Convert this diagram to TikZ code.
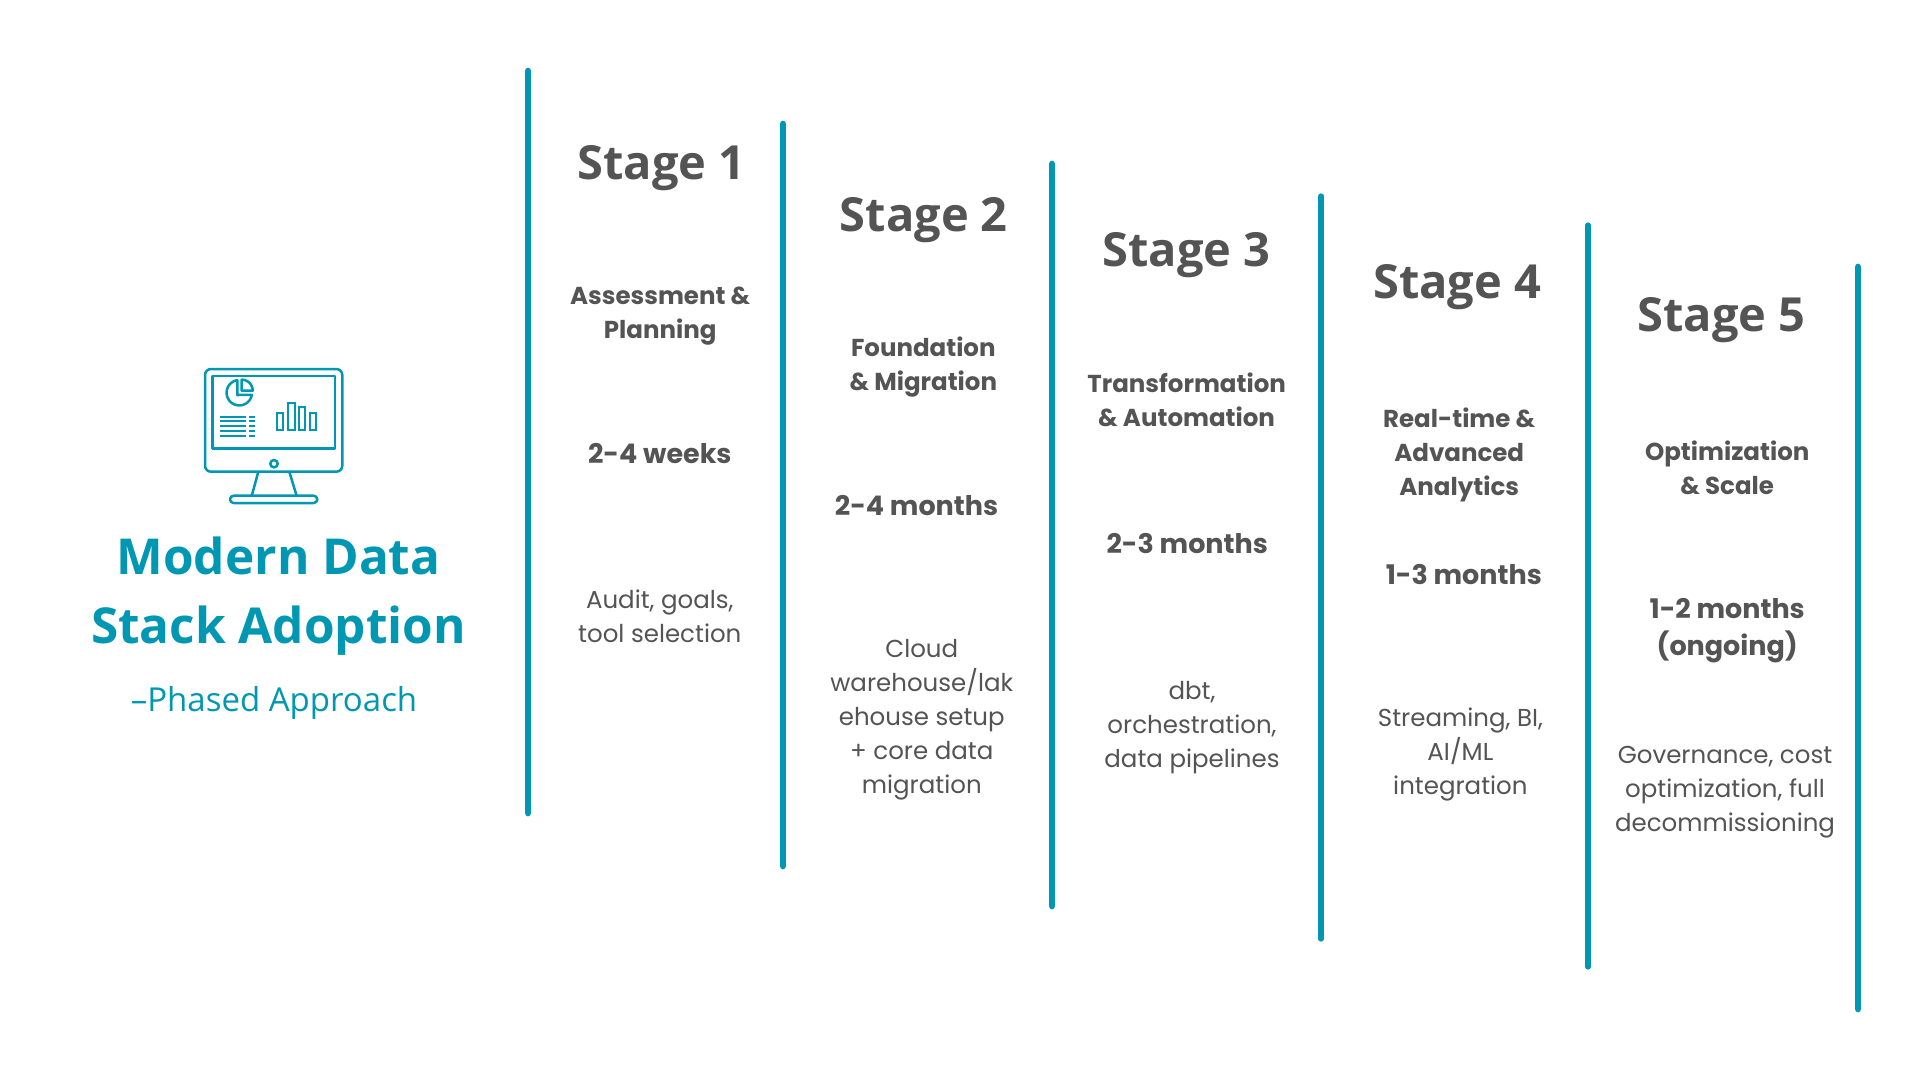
\documentclass[tikz,border=0pt]{standalone}
\usepackage{fontspec}
\setmainfont{Poppins}
\newfontfamily\headfont{Open Sans}
\definecolor{teal}{HTML}{0097B2}
\definecolor{ink}{HTML}{545454}
\tikzset{
  divider/.style={draw=teal,line width=6.7pt,line cap=round},
  dividerthin/.style={draw=teal,line width=5.2pt,line cap=round},
  icon/.style={draw=teal,line width=2.5pt,line join=round},
  iconfine/.style={draw=teal,line width=2.1pt},
  titletext/.style={align=center,inner sep=0pt,text=teal,font=\headfont\bfseries\fontsize{49.5}{69}\selectfont},
  subtext/.style={inner sep=0pt,text=teal,font=\headfont\fontsize{33}{38}\selectfont},
  stagehead/.style={inner sep=0pt,text=ink,font=\headfont\bfseries\fontsize{47}{54}\selectfont},
  phase/.style={align=center,inner sep=0pt,text=ink,font=\bfseries\fontsize{24.5}{34}\selectfont},
  durtext/.style={align=center,inner sep=0pt,text=ink,font=\bfseries\fontsize{27}{37}\selectfont},
  desc/.style={align=center,inner sep=0pt,text=ink,font=\fontsize{24.5}{34}\selectfont},
}
\begin{document}
\begin{tikzpicture}[x=1pt,y=-1pt]
\useasboundingbox[fill=white] (0,0) rectangle (1920,1080);
% dividers
\coordinate (d1t) at (528,71);  \coordinate (d1b) at (528,813);
\coordinate (d2t) at (783,124); \coordinate (d2b) at (783,866);
\coordinate (d3t) at (1052,164);\coordinate (d3b) at (1052,906);
\coordinate (d4t) at (1321,196);\coordinate (d4b) at (1321,939);
\coordinate (d5t) at (1588,225);\coordinate (d5b) at (1588,967);
\coordinate (d6t) at (1858,267);\coordinate (d6b) at (1858,1009);
\draw[divider] (d1t) -- (d1b);
\draw[divider] (d2t) -- (d2b);
\draw[divider] (d3t) -- (d3b);
\draw[dividerthin] (d4t) -- (d4b);
\draw[dividerthin] (d5t) -- (d5b);
\draw[divider] (d6t) -- (d6b);
% monitor icon
\draw[icon,rounded corners=6pt] (205,369) rectangle (342.3,471.7);
\draw[icon] (212.3,376) rectangle (335,448.3);
\draw[icon] (274,463.7) circle[radius=3.7pt];
\draw[icon] (258.3,471.7) -- (251.7,496);
\draw[icon] (289.3,471.7) -- (296.7,496);
\draw[icon,rounded corners=3.6pt] (230,495.7) rectangle (317.3,503);
\draw[icon] plot[domain=10:261,samples=40] ({239.3+12.7*cos(\x)},{392.7+12.7*sin(\x)}) -- (237.3,395) -- cycle;
\draw[icon] plot[domain=-90:0,samples=20] ({241.7+11*cos(\x)},{390.7+11*sin(\x)}) -- (241.7,390.7) -- cycle;
\foreach \yy in {416.7,421.3,426,431,435.7}{
  \draw[iconfine] (220,\yy) -- (246,\yy);
  \draw[iconfine] (249.3,\yy) -- (255,\yy);
}
\draw[iconfine] (277.3,413.3) rectangle (283.3,430);
\draw[iconfine] (287.7,402.7) rectangle (295,430);
\draw[iconfine] (298.7,407.3) rectangle (305.3,430);
\draw[iconfine] (310,413.3) rectangle (316,430);
% title
\node[titletext] (title) at (278.5,596) {Modern Data\\Stack Adoption};
\node[subtext] (subtitle) at (274,702.5) {–Phased Approach};
% stage 1
\node[stagehead] (s1) at (661.5,168.4) {Stage 1};
\node[phase] (p1) at (660.2,315.7) {Assessment \&\\Planning};
\node[durtext] (t1) at (659.8,454) {2-4 weeks};
\node[desc] (x1) at (659.8,616) {Audit, goals,\\tool selection};
% stage 2
\node[stagehead] (s2) at (923.8,219.8) {Stage 2};
\node[phase] (p2) at (923.3,367.4) {Foundation\\\& Migration};
\node[durtext] (t2) at (916.5,505.7) {2-4 months};
\node[desc] (x2) at (921.8,719.8) {Cloud\\warehouse/lak\\ehouse setup\\+ core data\\migration};
% stage 3
\node[stagehead] (s3) at (1186.6,255.5) {Stage 3};
\node[phase] (p3) at (1186.6,399.4) {Transformation\\\& Automation};
\node[durtext] (t3) at (1187.2,543.7) {2-3 months};
\node[desc] (x3) at (1192,727.4) {dbt,\\orchestration,\\data pipelines};
% stage 4
\node[stagehead] (s4) at (1457.2,286.8) {Stage 4};
\node[phase] (p4) at (1459.2,455) {Real-time \&\\Advanced\\Analytics};
\node[durtext] (t4) at (1463.8,574.3) {1-3 months};
\node[desc] (x4) at (1460.4,754.3) {Streaming, BI,\\AI/ML\\integration};
% stage 5
\node[stagehead] (s5) at (1721.6,320) {Stage 5};
\node[phase] (p5) at (1727.2,467.8) {Optimization\\\& Scale};
\node[durtext] (t5) at (1727.2,630.5) {1-2 months\\(ongoing)};
\node[desc] (x5) at (1725,792.1) {Governance, cost\\optimization, full\\decommissioning};
\end{tikzpicture}
\end{document}
